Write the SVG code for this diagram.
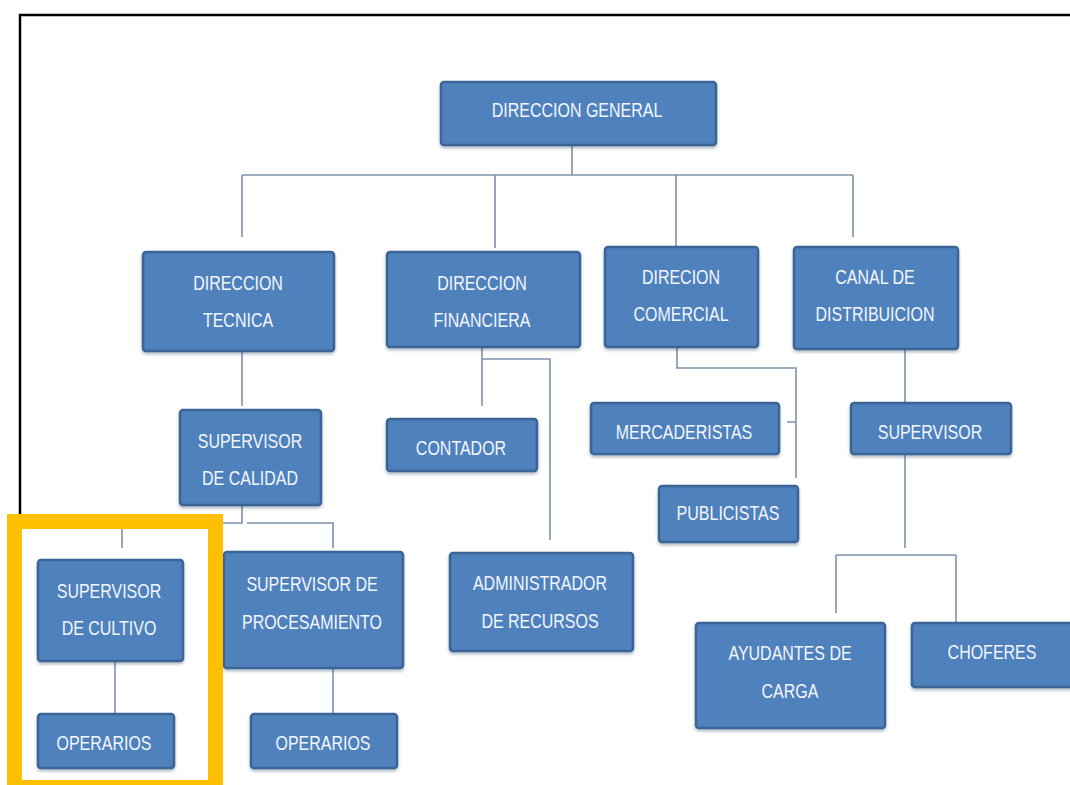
<svg xmlns="http://www.w3.org/2000/svg" width="1070" height="785" viewBox="0 0 1070 785">
<defs>
<style>
.box{fill:#4f81bd;stroke:#3a6596;stroke-width:2.5}
.t{font-family:"Liberation Sans Narrow","Liberation Sans",Arial,sans-serif;font-size:19.5px;fill:#f2f6fb;text-anchor:middle}
.c{fill:none;stroke:#7d93ad;stroke-width:1.6}
</style>
<filter id="sh" x="-5%" y="-5%" width="110%" height="120%">
<feDropShadow dx="0" dy="2" stdDeviation="1.5" flood-color="#1f3550" flood-opacity="0.35"/>
</filter>
</defs>
<rect width="1070" height="785" fill="#fff"/>
<path d="M20 785 V15 H1072" fill="none" stroke="#000" stroke-width="2.5"/>
<g id="connectors" class="c">
<path d="M572 145 V175 M242 175 H853 M242 175 V237 M495 175 V248 M676 175 V247 M853 175 V237"/>
<path d="M242 351 V406"/>
<path d="M482 347 V406 M482 359 H550 V540"/>
<path d="M677 347 V368 H796 V478 M787 422 H796"/>
<path d="M905 349 V403 M905 454 V548 M836 555 H956 M836 555 V613 M956 555 V623"/>
<path d="M242 505 V523 H122 V548 M247 523 H333 V548"/>
<path d="M115 661 V714"/>
<path d="M333 668 V714"/>
</g>
<g id="n-general"><rect class="box" filter="url(#sh)" x="441" y="82" width="275" height="63" rx="3"/><text class="t" transform="translate(577 117) scale(0.82 1)">DIRECCION GENERAL</text></g>
<g id="n-tecnica"><rect class="box" filter="url(#sh)" x="143" y="252" width="191" height="99" rx="3"/><text class="t" transform="translate(238 290) scale(0.82 1)">DIRECCION</text><text class="t" transform="translate(238 327) scale(0.82 1)">TECNICA</text></g>
<g id="n-financiera"><rect class="box" filter="url(#sh)" x="387" y="252" width="193" height="95" rx="3"/><text class="t" transform="translate(482 290) scale(0.82 1)">DIRECCION</text><text class="t" transform="translate(482 327) scale(0.82 1)">FINANCIERA</text></g>
<g id="n-comercial"><rect class="box" filter="url(#sh)" x="605" y="247" width="153" height="100" rx="3"/><text class="t" transform="translate(681 284) scale(0.82 1)">DIRECION</text><text class="t" transform="translate(681 321) scale(0.82 1)">COMERCIAL</text></g>
<g id="n-canal"><rect class="box" filter="url(#sh)" x="794" y="247" width="164" height="102" rx="3"/><text class="t" transform="translate(875 284) scale(0.82 1)">CANAL DE</text><text class="t" transform="translate(875 321) scale(0.82 1)">DISTRIBUICION</text></g>
<g id="n-calidad"><rect class="box" filter="url(#sh)" x="180" y="410" width="141" height="95" rx="3"/><text class="t" transform="translate(250 448) scale(0.82 1)">SUPERVISOR</text><text class="t" transform="translate(250 485) scale(0.82 1)">DE CALIDAD</text></g>
<g id="n-contador"><rect class="box" filter="url(#sh)" x="387" y="419" width="150" height="52" rx="3"/><text class="t" transform="translate(461 455) scale(0.82 1)">CONTADOR</text></g>
<g id="n-mercaderistas"><rect class="box" filter="url(#sh)" x="591" y="403" width="188" height="51" rx="3"/><text class="t" transform="translate(684 439) scale(0.82 1)">MERCADERISTAS</text></g>
<g id="n-publicistas"><rect class="box" filter="url(#sh)" x="659" y="486" width="139" height="56" rx="3"/><text class="t" transform="translate(728 520) scale(0.82 1)">PUBLICISTAS</text></g>
<g id="n-supervisor"><rect class="box" filter="url(#sh)" x="851" y="403" width="160" height="51" rx="3"/><text class="t" transform="translate(930 439) scale(0.82 1)">SUPERVISOR</text></g>
<g id="n-cultivo"><rect class="box" filter="url(#sh)" x="38" y="560" width="145" height="101" rx="3"/><text class="t" transform="translate(109 598) scale(0.82 1)">SUPERVISOR</text><text class="t" transform="translate(109 635) scale(0.82 1)">DE CULTIVO</text></g>
<g id="n-procesamiento"><rect class="box" filter="url(#sh)" x="224" y="552" width="179" height="116" rx="3"/><text class="t" transform="translate(312 591) scale(0.82 1)">SUPERVISOR DE</text><text class="t" transform="translate(312 629) scale(0.82 1)">PROCESAMIENTO</text></g>
<g id="n-operarios1"><rect class="box" filter="url(#sh)" x="38" y="714" width="136" height="54" rx="3"/><text class="t" transform="translate(104 750) scale(0.82 1)">OPERARIOS</text></g>
<g id="n-operarios2"><rect class="box" filter="url(#sh)" x="251" y="714" width="146" height="54" rx="3"/><text class="t" transform="translate(323 750) scale(0.82 1)">OPERARIOS</text></g>
<g id="n-administrador"><rect class="box" filter="url(#sh)" x="450" y="553" width="183" height="98" rx="3"/><text class="t" transform="translate(540 590) scale(0.82 1)">ADMINISTRADOR</text><text class="t" transform="translate(540 628) scale(0.82 1)">DE RECURSOS</text></g>
<g id="n-ayudantes"><rect class="box" filter="url(#sh)" x="696" y="623" width="189" height="105" rx="3"/><text class="t" transform="translate(790 660) scale(0.82 1)">AYUDANTES DE</text><text class="t" transform="translate(790 698) scale(0.82 1)">CARGA</text></g>
<g id="n-choferes"><rect class="box" filter="url(#sh)" x="912" y="623" width="165" height="64" rx="3"/><text class="t" transform="translate(992 659) scale(0.82 1)">CHOFERES</text></g>
<rect id="highlight" x="14.5" y="521.5" width="201" height="266" fill="none" stroke="#ffc000" stroke-width="15"/>
</svg>
